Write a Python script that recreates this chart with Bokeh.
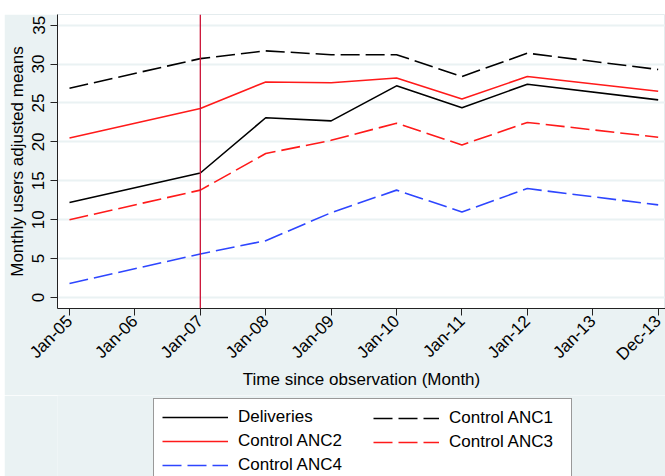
from bokeh.plotting import figure
from bokeh.layouts import column, row
from bokeh.models import FixedTicker, Span, Legend, LegendItem, Range1d, Div
from bokeh.embed import file_html
from bokeh.resources import INLINE

# ---- data ----
tick_labels = ["Jan-05", "Jan-06", "Jan-07", "Jan-08", "Jan-09",
               "Jan-10", "Jan-11", "Jan-12", "Jan-13", "Dec-13"]
obs_idx = [0, 2, 3, 4, 5, 6, 7, 9]
deliveries = [12.2, 16.0, 23.1, 22.7, 27.2, 24.4, 27.4, 25.4]
control_anc1 = [26.9, 30.7, 31.7, 31.2, 31.2, 28.4, 31.4, 29.3]
control_anc2 = [20.5, 24.3, 27.7, 27.6, 28.2, 25.5, 28.4, 26.5]
control_anc3 = [10.0, 13.8, 18.5, 20.2, 22.4, 19.6, 22.5, 20.6]
control_anc4 = [1.8, 5.6, 7.3, 10.9, 13.8, 11.0, 14.0, 11.9]
y_ticks = [0, 5, 10, 15, 20, 25, 30, 35]
intervention_idx = 2

BG = "#eaf2f3"
FONT = "Liberation Sans"
GAP_L = 4
W = 665 - GAP_L

p = figure(width=W, height=381, output_backend="svg", toolbar_location=None,
           x_range=Range1d(-0.1835, 9.112), y_range=Range1d(-1.414, 36.37),
           min_border_left=57 - GAP_L, min_border_right=0, min_border_top=0,
           min_border_bottom=87,
           background_fill_color="white", border_fill_color=BG)
p.outline_line_color = "#e4ecee"

# axes
p.xaxis.ticker = FixedTicker(ticks=list(range(len(tick_labels))))
p.xaxis.major_label_overrides = {i: t for i, t in enumerate(tick_labels)}
p.xaxis.major_label_orientation = 0.785398
p.yaxis.ticker = FixedTicker(ticks=y_ticks)
p.yaxis.major_label_orientation = "vertical"
for ax in (p.xaxis, p.yaxis):
    ax.axis_line_color = "#222222"
    ax.major_tick_line_color = "#222222"
    ax.major_tick_out = 7
    ax.major_tick_in = 0
    ax.minor_tick_out = 0
    ax.minor_tick_in = 0
    ax.major_label_text_font = FONT
    ax.major_label_text_font_size = "17px"
    ax.major_label_text_color = "black"
    ax.axis_label_text_font = FONT
    ax.axis_label_text_font_size = "17px"
    ax.axis_label_text_font_style = "normal"
    ax.axis_label_text_color = "black"
p.xaxis.axis_label = "Time since observation (Month)"
p.yaxis.axis_label = "Monthly users adjusted means"
p.yaxis.major_label_standoff = 6
p.yaxis.axis_label_standoff = 3
p.xaxis.major_label_standoff = 3
p.xaxis.axis_label_standoff = -4

p.xgrid.grid_line_color = None
p.ygrid.grid_line_color = BG
p.ygrid.grid_line_width = 2
p.ygrid.ticker = FixedTicker(ticks=y_ticks)

p.add_layout(Span(location=intervention_idx, dimension="height",
                  line_color="#cc1236", line_width=1.3))

LW = 1.6
DASH = "19 6"
styles = {
    "Deliveries": dict(line_color="black", line_width=LW),
    "Control ANC1": dict(line_color="black", line_width=LW, line_dash=DASH),
    "Control ANC2": dict(line_color="#ff1a1a", line_width=LW),
    "Control ANC3": dict(line_color="#ff1a1a", line_width=LW, line_dash=DASH),
    "Control ANC4": dict(line_color="#2e46ff", line_width=LW, line_dash=DASH),
}
series = {
    "Deliveries": deliveries,
    "Control ANC1": control_anc1,
    "Control ANC2": control_anc2,
    "Control ANC3": control_anc3,
    "Control ANC4": control_anc4,
}
for name, vals in series.items():
    p.line(obs_idx, vals, **styles[name])

# ---- legend strip under the chart (series drawn out of view, keys only) ----
LG_H = 81
lg = figure(width=W, height=LG_H, output_backend="svg", toolbar_location=None,
            x_range=Range1d(0, 1), y_range=Range1d(-3, -2),
            x_axis_location=None, y_axis_location=None,
            min_border=0, min_border_left=0, min_border_right=0,
            min_border_top=0, min_border_bottom=0,
            background_fill_color=BG, border_fill_color=BG)
lg.outline_line_color = None
lg.xgrid.visible = False
lg.ygrid.visible = False
key_r = {name: lg.line(obs_idx, vals, **styles[name]) for name, vals in series.items()}

def make_legend(names, loc, bordered, label_width):
    return Legend(items=[LegendItem(label=n, renderers=[key_r[n]]) for n in names],
                  location=loc, orientation="vertical",
                  margin=0, padding=8, spacing=4,
                  glyph_width=66, glyph_height=20, label_height=20,
                  label_width=label_width, label_standoff=10,
                  label_text_font=FONT, label_text_font_size="17px",
                  label_text_color="black",
                  background_fill_color="white" if bordered else None,
                  background_fill_alpha=1.0 if bordered else 0.0,
                  border_line_color="#333333" if bordered else None,
                  border_line_width=1)

lg.add_layout(make_legend(["Deliveries", "Control ANC2", "Control ANC4"],
                          (96, -8), True, 325))
lg.add_layout(make_legend(["Control ANC1", "Control ANC3"],
                          (316, 24), False, 100))

top_gap = Div(text="", width=W, height=14, margin=0,
              styles={"height": "14px", "min-height": "14px"})
left_gap = Div(text="", width=GAP_L, height=476, margin=0,
               styles={"width": f"{GAP_L}px", "min-width": f"{GAP_L}px"})
layout = row(left_gap, column(top_gap, p, lg, spacing=0), spacing=0)
open("out.html", "w").write(file_html(layout, INLINE))
